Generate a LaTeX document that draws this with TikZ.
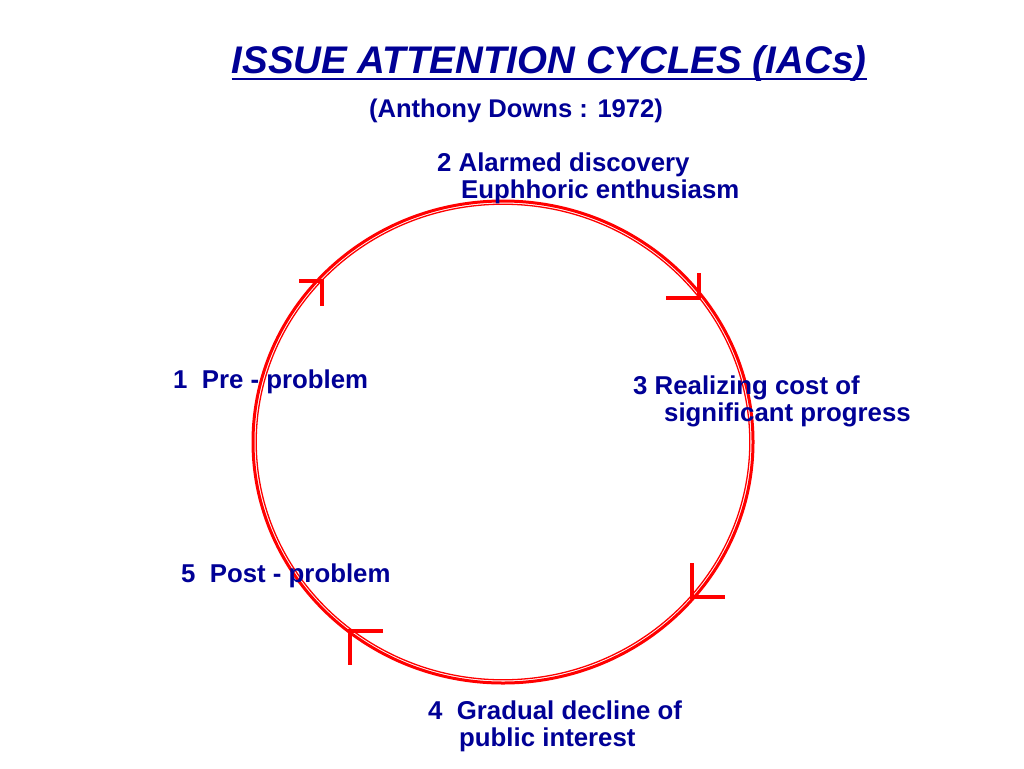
\documentclass[tikz,border=0pt]{standalone}
\usepackage{fontspec}
\setmainfont{Liberation Sans}
\begin{document}
\begin{tikzpicture}[x=1pt,y=-1pt,
  lbl/.style={anchor=base west,inner sep=0pt,text=navyc,font=\fontsize{25.8}{30}\selectfont\bfseries},
  ringout/.style={draw=redc,line width=3pt},
  ringin/.style={draw=redc,line width=1.3pt},
  tick/.style={draw=redc,line width=3.8pt}]
\definecolor{navyc}{RGB}{0,0,150}
\definecolor{redc}{RGB}{255,0,0}
\useasboundingbox (0,0) rectangle (1024,768);
\fill[white] (0,0) rectangle (1024,768);
\node[anchor=base,inner sep=0pt,text=navyc,font=\fontsize{38.5}{44}\selectfont\bfseries\itshape] (title) at (549,73) {ISSUE ATTENTION CYCLES (IACs)};
\draw[navyc,line width=2pt] ([yshift=-6pt]title.base west) -- ([yshift=-6pt]title.base east);
\node[anchor=base,inner sep=0pt,text=navyc,font=\fontsize{25.6}{30}\selectfont\bfseries] (sub) at (516,117) {(Anthony Downs : 1972)};
\draw[ringout] (503,442) ellipse [x radius=250, y radius=241];
\draw[ringin] (503,442) ellipse [x radius=246.8, y radius=237.8];
\coordinate (t1) at (322,281);
\draw[tick] (299,281) -- (t1) -- (322,306);
\coordinate (t2) at (699,298);
\draw[tick] (666,298) -- (t2) -- (699,273);
\coordinate (t3) at (692,597);
\draw[tick] (692,563) -- (t3) -- (725,597);
\coordinate (t4) at (350,631);
\draw[tick] (383,631) -- (t4) -- (350,665);
\node[lbl] (l2a) at (437,171) {2 Alarmed discovery};
\node[lbl] (l2b) at (461,198) {Euphhoric enthusiasm};
\node[lbl] (l1) at (173,388) {1\ \ Pre - problem};
\node[lbl] (l3a) at (633,394) {3 Realizing cost of};
\node[lbl] (l3b) at (664,421) {significant progress};
\node[lbl] (l5) at (181,582) {5\ \ Post - problem};
\node[lbl] (l4a) at (428,719) {4\ \ Gradual decline of};
\node[lbl] (l4b) at (459,746) {public interest};
\end{tikzpicture}
\end{document}
